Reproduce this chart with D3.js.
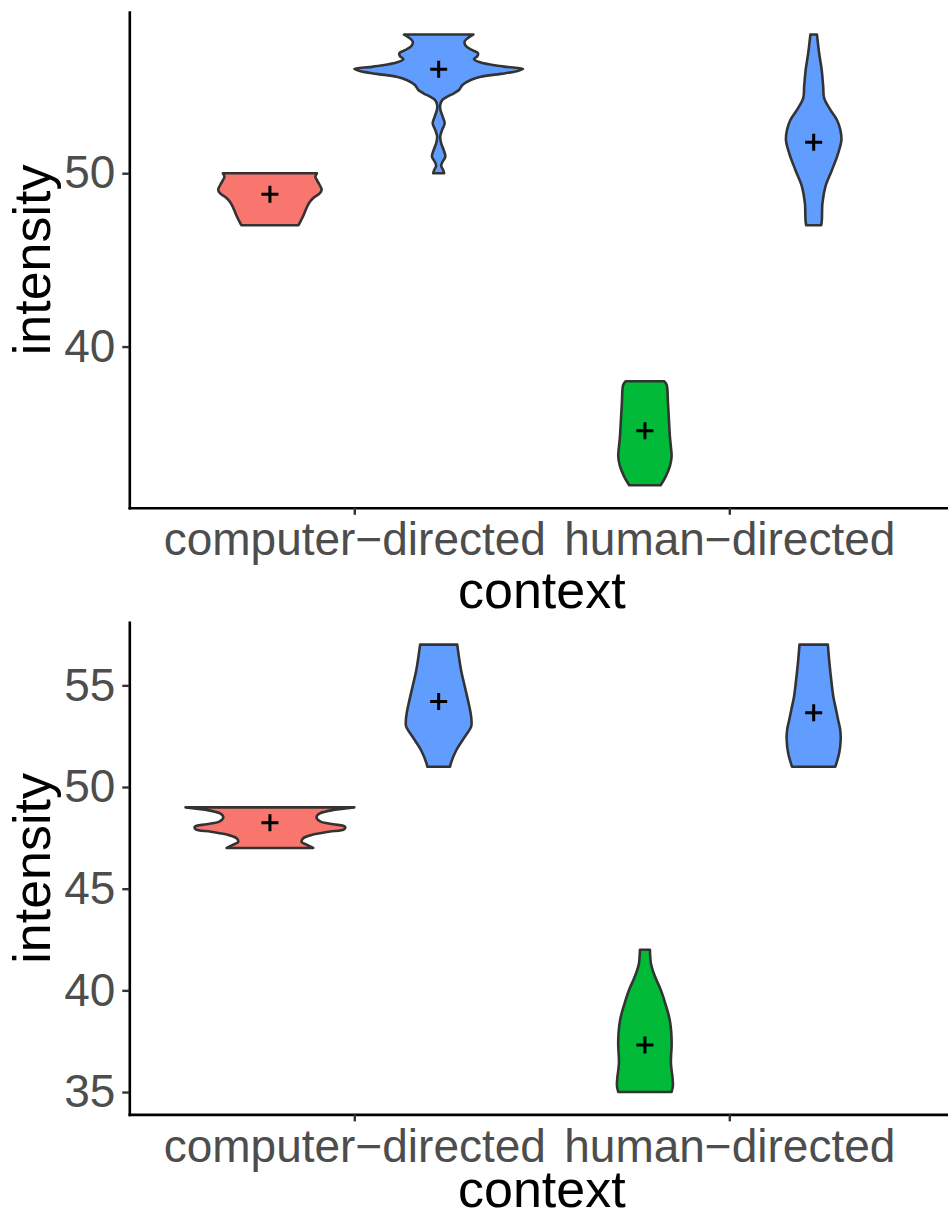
<!DOCTYPE html>
<html>
<head>
<meta charset="utf-8">
<script src="https://cdn.jsdelivr.net/npm/d3@7"></script>
<style>
  html, body { margin: 0; padding: 0; background: #ffffff; }
  svg { display: block; }
</style>
</head>
<body>
<script>
// Categories on the x axis
const contexts = ["computer−directed", "human−directed"];

// Each violin: which context it sits in, which fill group, and its dodge slot
const violinContext = [0, 0, 1, 1];
const violinFill = [0, 2, 1, 2];
const violinSlot = [0, 1, 0, 1];

// Density profiles: [intensity, scaled density] (density 1 = widest violin)
const upperRed = [
  [50.0, 0.557], [49.8, 0.539], [49.6, 0.557], [49.35, 0.586], [49.05, 0.613],
  [48.85, 0.592], [48.6, 0.521], [48.35, 0.474], [48.1, 0.444], [47.85, 0.421],
  [47.5, 0.391], [47.15, 0.355], [47.0, 0.338]
];
const upperBlueComputer = [
  [58.0, 0.411], [57.85, 0.361], [57.6, 0.308], [57.35, 0.320], [57.1, 0.399],
  [56.92, 0.466], [56.76, 0.459], [56.57, 0.418], [56.34, 0.537], [56.15, 0.774],
  [56.02, 1.0], [55.88, 0.924], [55.73, 0.735], [55.57, 0.498], [55.38, 0.379],
  [55.09, 0.281], [54.8, 0.241], [54.61, 0.181], [54.42, 0.103], [54.23, 0.044],
  [53.94, 0.018], [53.65, 0.021], [53.27, 0.047], [52.88, 0.071], [52.5, 0.041],
  [52.11, 0.018], [51.73, 0.030], [51.34, 0.059], [50.96, 0.079], [50.67, 0.047],
  [50.42, 0.030], [50.19, 0.053], [50.0, 0.065]
];
const upperGreen = [
  [38.0, 0.227], [37.8, 0.257], [36.75, 0.273], [35.8, 0.284], [34.8, 0.296],
  [34.2, 0.308], [33.66, 0.316], [33.1, 0.296], [32.5, 0.246], [32.0, 0.186]
];
const upperBlueHuman = [
  [58.0, 0.039], [56.92, 0.065], [55.96, 0.095], [54.99, 0.113], [54.33, 0.124],
  [53.65, 0.198], [53.07, 0.276], [52.5, 0.316], [51.92, 0.329], [51.15, 0.290],
  [50.19, 0.217], [49.23, 0.139], [48.27, 0.104], [47.31, 0.097], [47.0, 0.089]
];
const upperMeans = [48.79, 56.0, 35.14, 51.78];
const upperTicks = [40, 50];

const lowerRed = [
  [49.0, 1.0], [48.87, 0.75], [48.72, 0.60], [48.6, 0.56], [48.46, 0.555],
  [48.3, 0.60], [48.17, 0.75], [48.05, 0.89], [47.92, 0.88], [47.8, 0.70],
  [47.65, 0.50], [47.48, 0.395], [47.3, 0.375], [47.15, 0.44], [47.0, 0.513]
];
const lowerBlueComputer = [
  [57.0, 0.22], [56.4, 0.24], [55.76, 0.265], [54.93, 0.31], [54.12, 0.355],
  [53.6, 0.38], [53.2, 0.39], [52.97, 0.385], [52.47, 0.31], [51.82, 0.21],
  [51.17, 0.145], [51.0, 0.135]
];
const lowerGreen = [
  [42.0, 0.059], [41.6, 0.064], [41.3, 0.072], [40.9, 0.10], [40.5, 0.138],
  [40.1, 0.18], [39.68, 0.217], [39.3, 0.245], [38.87, 0.276], [38.45, 0.298],
  [38.03, 0.31], [37.6, 0.316], [37.23, 0.316], [36.8, 0.31], [36.41, 0.308],
  [36.0, 0.318], [35.75, 0.326], [35.4, 0.332], [35.26, 0.33], [35.0, 0.316]
];
const lowerBlueHuman = [
  [57.0, 0.168], [56.08, 0.187], [55.2, 0.21], [54.44, 0.233], [53.8, 0.265],
  [53.3, 0.29], [52.8, 0.315], [52.31, 0.32], [51.66, 0.302], [51.0, 0.257]
];
const lowerMeans = [48.24, 54.2, 37.31, 53.65];
const lowerTicks = [35, 40, 45, 50, 55];

// Colours and type
const fillColors = ["#F8766D", "#00BA38", "#619CFF"];
const FONT = "'Liberation Sans', Arial, Helvetica, sans-serif";

const W = 948, H = 1219;
const svg = d3.select("body").append("svg")
  .attr("width", W).attr("height", H)
  .attr("viewBox", `0 0 ${W} ${H}`);

const x = d3.scalePoint()
  .domain(contexts)
  .range([129.3, 954.3])
  .padding(0.6);

function drawPanel(profiles, means, ticks, top, bottom, titleY) {
  const g = svg.append("g");

  // y domain: data extent expanded by 5% on each side
  const all = profiles.flat().map(d => d[0]);
  const lo = d3.min(all), hi = d3.max(all);
  const pad = (hi - lo) * 0.05;
  const y = d3.scaleLinear().domain([lo - pad, hi + pad]).range([bottom, top]);

  const step = x.step();
  const halfMax = 0.225 * step;

  profiles.forEach((prof, i) => {
    const cx = x(contexts[violinContext[i]]) + (violinSlot[i] - 0.5) * 0.45 * step;
    const area = d3.area()
      .y(d => y(d[0]))
      .x0(d => cx - d[1] * halfMax)
      .x1(d => cx + d[1] * halfMax)
      .curve(d3.curveCatmullRom.alpha(0.5));
    g.append("path")
      .attr("d", area(prof))
      .attr("fill", fillColors[violinFill[i]])
      .attr("stroke", "#333333")
      .attr("stroke-width", 2.6)
      .attr("stroke-linejoin", "round");

    // mean marker
    const my = y(means[i]);
    g.append("path")
      .attr("d", `M${cx - 8.5},${my}H${cx + 8.5}M${cx},${my - 8.5}V${my + 8.5}`)
      .attr("stroke", "#000000")
      .attr("stroke-width", 3)
      .attr("fill", "none");
  });

  // y axis
  const yAxis = g.append("g")
    .attr("transform", `translate(${x.range()[0]},0)`)
    .call(d3.axisLeft(y).tickValues(ticks).tickSize(7).tickSizeOuter(0).tickPadding(7));
  // x axis
  const xAxis = g.append("g")
    .attr("transform", `translate(0,${bottom})`)
    .call(d3.axisBottom(x).tickSize(7).tickSizeOuter(0).tickPadding(8));

  [yAxis, xAxis].forEach(ax => {
    ax.select(".domain").attr("stroke", "#000000").attr("stroke-width", 2.6)
      .attr("stroke-linecap", "square");
    ax.selectAll(".tick line").attr("stroke", "#333333").attr("stroke-width", 2.4);
    ax.selectAll(".tick text")
      .attr("fill", "#4D4D4D")
      .style("font-family", FONT)
      .style("font-size", "46px");
  });

  // axis titles
  g.append("text")
    .attr("transform", `translate(50,${(top + bottom) / 2}) rotate(-90)`)
    .attr("text-anchor", "middle")
    .style("font-family", FONT)
    .style("font-size", "52px")
    .attr("fill", "#000000")
    .text("intensity");

  g.append("text")
    .attr("x", (x.range()[0] + x.range()[1]) / 2)
    .attr("y", titleY)
    .attr("text-anchor", "middle")
    .style("font-family", FONT)
    .style("font-size", "52px")
    .attr("fill", "#000000")
    .text("context");
}

drawPanel([upperRed, upperBlueComputer, upperGreen, upperBlueHuman],
  upperMeans, upperTicks, 12, 507.8, 608);
drawPanel([lowerRed, lowerBlueComputer, lowerGreen, lowerBlueHuman],
  lowerMeans, lowerTicks, 622.3, 1114.4, 1207);
</script>
</body>
</html>
